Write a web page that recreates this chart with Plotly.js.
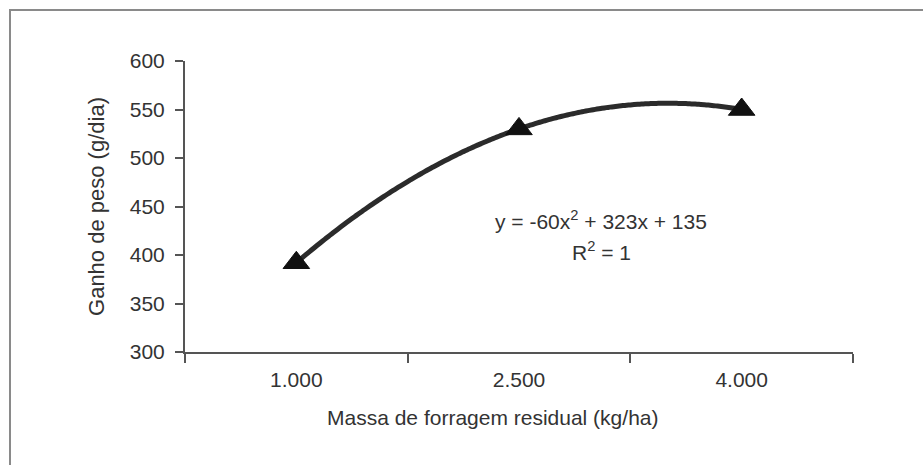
<!DOCTYPE html>
<html>
<head>
<meta charset="utf-8">
<script src="https://cdn.plot.ly/plotly-3.0.1.min.js"></script>
<style>
  html, body { margin: 0; padding: 0; background: #ffffff; }
  #wrap { position: relative; width: 923px; height: 465px; overflow: hidden; }
  #chart { position: absolute; left: 0; top: 0; width: 923px; height: 465px; }
  #frame { position: absolute; left: 9px; top: 9px; width: 930px; height: 470px;
           border-top: 2px solid #8a8a8a; border-left: 2px solid #8a8a8a;
           pointer-events: none; box-sizing: border-box; }
</style>
</head>
<body>
<div id="wrap">
  <div id="chart"></div>
  <div id="frame"></div>
</div>
<script>
// ---- data ----
const categories = ['1.000', '2.500', '4.000'];   // Massa de forragem residual (kg/ha)
const xPos = [1, 2, 3];                            // category index used by the trendline
const ganhoPeso = [392, 530, 550];                 // Ganho de peso (g/dia)
const equationText = 'y = -60x<sup>2</sup> + 323x + 135';
const r2Text = 'R<sup>2</sup> = 1';
const yTickVals = [300, 350, 400, 450, 500, 550, 600];

// ---- polynomial (order 2) trendline, least squares fit of the data ----
function polyFit2(xs, ys) {
  let n = xs.length, S = [0,0,0,0,0], T = [0,0,0];
  for (let i = 0; i < n; i++) {
    let p = 1;
    for (let k = 0; k < 5; k++) { S[k] += p; if (k < 3) T[k] += p * ys[i]; p *= xs[i]; }
  }
  const M = [[S[0],S[1],S[2],T[0]],[S[1],S[2],S[3],T[1]],[S[2],S[3],S[4],T[2]]];
  for (let c = 0; c < 3; c++) {
    for (let r = c + 1; r < 3; r++) {
      const f = M[r][c] / M[c][c];
      for (let k = c; k < 4; k++) M[r][k] -= f * M[c][k];
    }
  }
  const coef = [0,0,0];
  for (let r = 2; r >= 0; r--) {
    let s = M[r][3];
    for (let k = r + 1; k < 3; k++) s -= M[r][k] * coef[k];
    coef[r] = s / M[r][r];
  }
  return coef; // c0 + c1 x + c2 x^2
}
const coef = polyFit2(xPos, ganhoPeso);
const trendX = [], trendY = [];
const x0 = xPos[0], x1 = xPos[xPos.length - 1], steps = 120;
for (let i = 0; i <= steps; i++) {
  const x = x0 + (x1 - x0) * i / steps;
  trendX.push(x);
  trendY.push(coef[0] + coef[1] * x + coef[2] * x * x);
}
const boundaries = xPos.map(v => v - 0.5).concat([xPos[xPos.length - 1] + 0.5]);

const FONT = 'Liberation Sans, Arial, sans-serif';
const TXT = '#333333';
const AX = '#555555';

const traces = [
  { x: trendX, y: trendY, type: 'scatter', mode: 'lines',
    line: { color: '#2b2b2b', width: 5, simplify: false, shape: 'spline' },
    hoverinfo: 'skip', showlegend: false },
  { x: xPos, y: ganhoPeso, type: 'scatter', mode: 'markers',
    marker: { symbol: 'triangle-up', size: 23, color: '#111111',
              line: { color: '#111111', width: 1 } }, showlegend: false }
];

const layout = {
  width: 923, height: 465,
  margin: { l: 185, r: 70, t: 61, b: 113, pad: 0 },
  paper_bgcolor: 'rgba(0,0,0,0)', plot_bgcolor: 'rgba(0,0,0,0)',
  font: { family: FONT, size: 21, color: TXT },
  showlegend: false,
  xaxis: {
    type: 'linear', range: [boundaries[0], boundaries[boundaries.length - 1]],
    tickmode: 'array', tickvals: xPos, ticktext: categories,
    ticks: 'outside', ticklen: 8, tickcolor: 'rgba(0,0,0,0)',
    showline: true, linecolor: AX, linewidth: 2,
    showgrid: false, zeroline: false,
    tickfont: { family: FONT, size: 21, color: TXT },
    minor: { tickmode: 'array', tickvals: boundaries, ticks: 'outside',
             ticklen: 9, tickwidth: 2, tickcolor: AX, showgrid: false }
  },
  yaxis: {
    range: [300, 600], tickmode: 'array', tickvals: yTickVals,
    ticks: 'outside', ticklen: 8, tickwidth: 2, tickcolor: AX,
    ticklabelstandoff: 6,
    showline: true, linecolor: AX, linewidth: 2,
    showgrid: false, zeroline: false,
    tickfont: { family: FONT, size: 21, color: TXT },
    title: { text: 'Ganho de peso (g/dia)', font: { family: FONT, size: 22, color: TXT }, standoff: 19 }
  },
  annotations: [
    { text: 'Massa de forragem residual (kg/ha)', xref: 'paper', yref: 'paper',
      x: 0.4596, y: -0.225, xanchor: 'center', yanchor: 'middle', showarrow: false,
      font: { family: FONT, size: 21, color: TXT } },
    { text: equationText, xref: 'paper', yref: 'paper',
      x: 0.6228, y: 0.4550, xanchor: 'center', yanchor: 'middle', showarrow: false,
      font: { family: FONT, size: 21, color: TXT } },
    { text: r2Text, xref: 'paper', yref: 'paper',
      x: 0.6228, y: 0.347, xanchor: 'center', yanchor: 'middle', showarrow: false,
      font: { family: FONT, size: 21, color: TXT } }
  ]
};

Plotly.newPlot('chart', traces, layout, { displayModeBar: false, staticPlot: true });
</script>
</body>
</html>
